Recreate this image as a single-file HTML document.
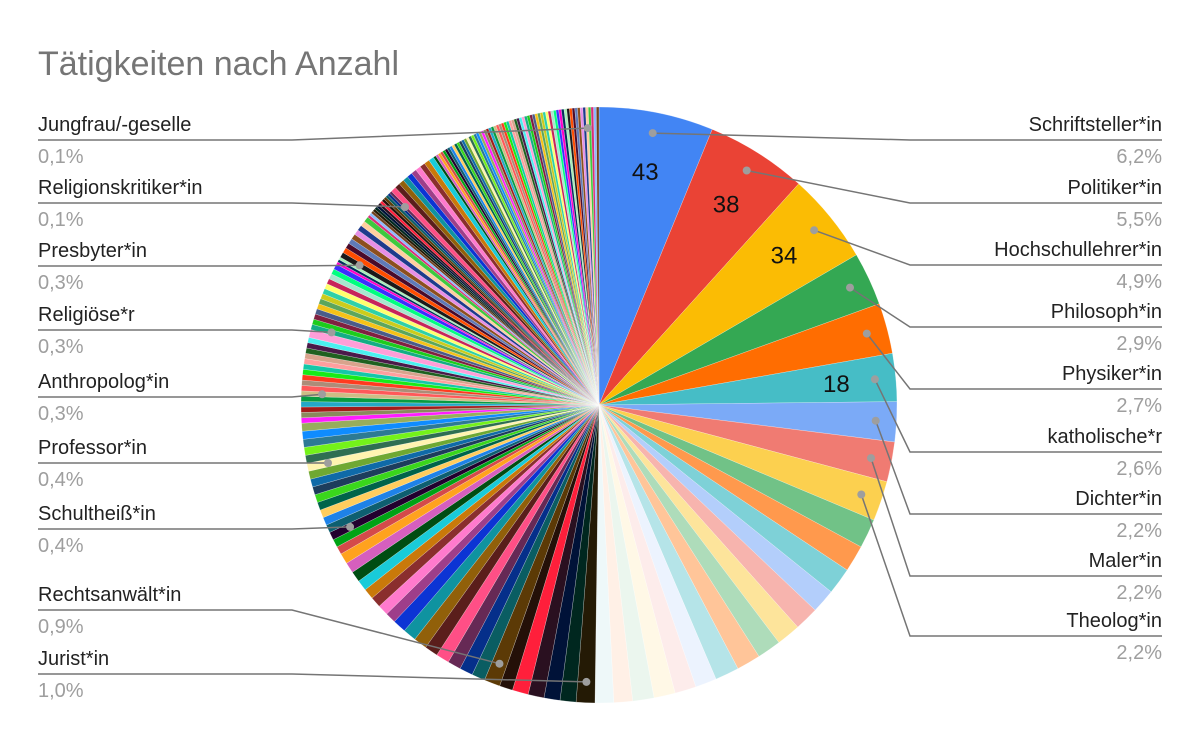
<!DOCTYPE html>
<html><head><meta charset="utf-8"><style>
html,body{margin:0;padding:0;background:#fff;}
svg{display:block;font-family:"Liberation Sans",Arial,sans-serif;}
</style></head><body>
<svg id="chart" width="1200" height="742" viewBox="0 0 1200 742">
<rect width="1200" height="742" fill="#fff"/>
<text x="38" y="75" font-size="34" fill="#757575">Tätigkeiten nach Anzahl</text>
<g id="slices"></g>
<g id="labels"></g>
</svg>
<script>
const namedCategories = ["Schriftsteller*in","Politiker*in","Hochschullehrer*in","Philosoph*in","Physiker*in","katholische*r","Dichter*in","Maler*in","Theolog*in"];
const namedValues = [43,38,34,20,19,18,15,15,15];
const restValues = [11,10,10,9,9,9,9,9,9,8,8,8,8,7,7,
 7,
 6,6,6,6,5,
 6,
 5,5,5,5,5,5,5,5,4,4,4,4,4,4,4,4,3,3,
 3,
 3,3,3,3,3,3,3,3,
 3,
 3,3,3,3,3,2,2,2,2,2,
 2,
 2,2,2,2,2,2,2,2,2,2,3,
 2,
 2,2,2,2,2,2,2,2,2,2,2,2,1,1,1,
 2,
 2,2,2,2,2,2,2,2,1,1,1,1,1,1,1,1,1,1,1,1,
 1,
 2,2,2,2,2,2,2,2,2,2,1,1,1,1,1,1,1,1,1,1,1,1,1,1,1,1,1,1,1,1,1,1,1,1,1,1,1,1,1,1,1,1,1,1,1,1,1,1,1,1,1,1,1,1,1,1,1,1,1,1,1,1,1,1,1,1,1,1,1,1,
 1,
 1,1,1,1];
// labelled small slices: index in restValues -> name
const leftLabelIdx = [15,21,40,49,60,72,88,109,180];
const leftLabelNames = ["Jurist*in","Rechtsanwält*in","Schultheiß*in","Professor*in","Anthropolog*in","Religiöse*r","Presbyter*in","Religionskritiker*in","Jungfrau/-geselle"];
const valueLabelIdx = [0,1,2,5];

const allValues = namedValues.concat(restValues);
const total = allValues.reduce((a,b)=>a+b,0);
const cx=599, cy=405, R=298;
const headColors=["#4285f4","#ea4335","#fbbc04","#34a853","#ff6d01","#46bdc6","#7baaf7","#f07b72","#fcd04f",
"#71c287","#ff994d","#7ed1d7","#b3cefb","#f7b4ae","#fde49b","#aedcba","#ffc599","#b5e4e8","#ecf3fe","#fdeceb","#fff8e6","#ebf6ee","#fff0e6","#eef8f9"];
const cyc=["#241a05","#00271f","#001238","#2a1020","#ff1f3b","#241008","#5c3a06","#0a5d62","#052f8a","#662955","#ff4f86","#5a1e1b","#91600a","#0f93a0","#0c34d4","#9e3e8a","#ff7acd","#8a2e2e","#c9790a","#19cbd9","#004d12","#d65fbe","#ffa21e","#d44a4a","#00a315","#22002e","#0e5f70","#1e82e8","#ffcd5e","#00634a","#3ad61c","#1d3d5c","#0f6aa8","#6fa832","#fff4b0","#2f6e52","#74f21a","#2d7a94","#0f8cff","#97ad5c","#ff1cff","#8a8a5c","#a31b1b","#24a8c7","#079c41","#cdbd85","#ff5959","#ad8c78","#ff3b1f","#18eb18","#14c7a8","#ff9e9e","#d9a38c","#1f6120","#4a1a4a","#4af0f0","#ff9ed8","#14ad85","#1ccc1c","#802040","#4a5c8a","#f5c218","#5ca65c","#cccc1c","#2ed1a8","#ffff6e","#c7245a","#a8e6cf","#00ff80","#3b2eff","#ff00c8","#002f5c","#a8f0b8","#1a1a1a","#ff4d00","#4a0a2a","#5f7ab8","#8c4f1e","#e68fe6","#1e3b8c","#ffcfa0","#3ec93e","#d92e7a","#8cb8ff","#70401e"];
function colorAt(i){return i<headColors.length?headColors[i]:cyc[(i-headColors.length)%cyc.length];}
function pt(a,r){return [cx+r*Math.sin(a),cy-r*Math.cos(a)];}
const NS="http://www.w3.org/2000/svg";
const gS=document.getElementById('slices'), gL=document.getElementById('labels');
let cum=0; const mids=[];
allValues.forEach((v,i)=>{
  const a0=cum/total*2*Math.PI; cum+=v; const a1=cum/total*2*Math.PI;
  mids.push((a0+a1)/2);
  const p0=pt(a0,R), p1=pt(a1,R);
  const large=(a1-a0)>Math.PI?1:0;
  const p=document.createElementNS(NS,'path');
  p.setAttribute('d',`M${cx},${cy}L${p0[0].toFixed(2)},${p0[1].toFixed(2)}A${R},${R} 0 ${large} 1 ${p1[0].toFixed(2)},${p1[1].toFixed(2)}Z`);
  p.setAttribute('fill',colorAt(i));
  p.setAttribute('stroke','#ffffff'); p.setAttribute('stroke-width','0.4'); p.setAttribute('stroke-opacity','0.6');
  
  
  gS.appendChild(p);
});
function txt(x,y,s,size,fill,anchor,name){
  const t=document.createElementNS(NS,'text');
  t.setAttribute('x',x);t.setAttribute('y',y);t.setAttribute('font-size',size);t.setAttribute('fill',fill);
  if(anchor)t.setAttribute('text-anchor',anchor);
  t.textContent=s;
  
  
  gL.appendChild(t);
}
function leader(pts){
  const l=document.createElementNS(NS,'polyline');
  l.setAttribute('points',pts.map(p=>p.join(',')).join(' '));
  l.setAttribute('fill','none');l.setAttribute('stroke','#757575');l.setAttribute('stroke-width','1.5');
  
  
  gL.appendChild(l);
  const c=document.createElementNS(NS,'circle');
  c.setAttribute('cx',pts[0][0]);c.setAttribute('cy',pts[0][1]);c.setAttribute('r',4);c.setAttribute('fill','#9e9e9e');
  
  
  gL.appendChild(c);
}
function pct(v){return (Math.round(v/total*1000)/10).toFixed(1).replace('.',',')+'%';}
const rightY=[140,203,265,327,389,452,514,576,636];
namedCategories.forEach((n,i)=>{
  const d=pt(mids[i],R*0.93);
  const y=rightY[i];
  leader([[d[0].toFixed(1),d[1].toFixed(1)],[910,y],[1162,y]]);
  txt(1162,y-9,n,20,'#222','end','legend-label');
  txt(1162,y+23,pct(namedValues[i]),20,'#9e9e9e','end','legend-percent');
});
const leftY=[674,610,529,463,397,330,266,203,140];
leftLabelIdx.forEach((ri,k)=>{
  const i=ri+namedValues.length;
  const d=pt(mids[i],R*0.93);
  const y=leftY[k];
  leader([[d[0].toFixed(1),d[1].toFixed(1)],[292,y],[38,y]]);
  txt(38,y-9,leftLabelNames[k],20,'#222',null,'legend-label');
  txt(38,y+23,pct(restValues[ri]),20,'#9e9e9e',null,'legend-percent');
});
valueLabelIdx.forEach(i=>{
  const p=pt(mids[i],R*0.8);
  txt(p[0].toFixed(1),(p[1]+9).toFixed(1),String(allValues[i]),24,'#111','middle','slice-value');
});
</script>
</body></html>
